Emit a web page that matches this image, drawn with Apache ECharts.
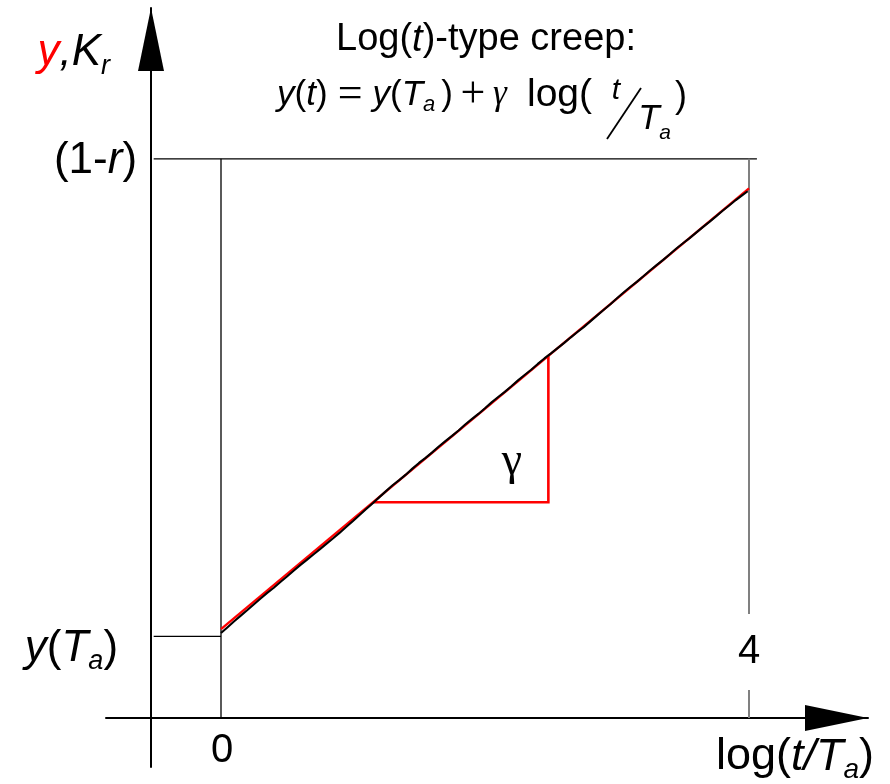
<!DOCTYPE html>
<html>
<head>
<meta charset="utf-8">
<script src="https://cdn.jsdelivr.net/npm/echarts@6/dist/echarts.min.js"></script>
<style>
  html, body { margin: 0; padding: 0; background: #fff; }
  #chart { width: 890px; height: 784px; }
</style>
</head>
<body>
<div id="chart"></div>
<script>
// ---- data -------------------------------------------------------------
// x: log(t/Ta), y: creep response y (or K_r)
const xTicks = [0, 4];
const xTickLabels = ['0', '4'];
const yLevels = [0.146, 1.0];               // y(Ta) and (1-r)
const yLevelLabels = ['{i|y}{n|(}{i|T}{s|a}{n|)}', '{n|(1-}{i|r}{n|)}'];
const yAxisAt = -0.53;                       // where the vertical axis crosses
const topLineEnd = 4.06;

// fitted log(t) line and its slope triangle
const fitLine = [[0, 0.159], [4, 0.947]];
const slopeTriangle = [[1.15, 0.386], [2.48, 0.386], [2.48, 0.648]];

// measured creep curve
const measuredLogT = [
  0.00, 0.05, 0.10, 0.15, 0.20, 0.25, 0.30, 0.35, 0.40, 0.45,
  0.50, 0.55, 0.60, 0.65, 0.70, 0.75, 0.80, 0.85, 0.90, 0.95,
  1.00, 1.05, 1.10, 1.15, 1.20, 1.25, 1.30, 1.35, 1.40, 1.45,
  1.50, 1.55, 1.60, 1.65, 1.70, 1.75, 1.80, 1.85, 1.90, 1.95,
  2.00, 2.05, 2.10, 2.15, 2.20, 2.25, 2.30, 2.35, 2.40, 2.45,
  2.50, 2.55, 2.60, 2.65, 2.70, 2.75, 2.80, 2.85, 2.90, 2.95,
  3.00, 3.05, 3.10, 3.15, 3.20, 3.25, 3.30, 3.35, 3.40, 3.45,
  3.50, 3.55, 3.60, 3.65, 3.70, 3.75, 3.80, 3.85, 3.90, 3.95, 3.99];
const measuredY = [
  0.1520, 0.1625, 0.1730, 0.1832, 0.1932, 0.2035, 0.2138, 0.2238, 0.2330, 0.2432,
  0.2530, 0.2634, 0.2735, 0.2828, 0.2925, 0.3020, 0.3118, 0.3215, 0.3315, 0.3420,
  0.3525, 0.3632, 0.3738, 0.3842, 0.3950, 0.4058, 0.4162, 0.4255, 0.4352, 0.4460,
  0.4562, 0.4652, 0.4750, 0.4855, 0.4952, 0.5045, 0.5142, 0.5248, 0.5345, 0.5438,
  0.5540, 0.5645, 0.5740, 0.5832, 0.5932, 0.6038, 0.6133, 0.6228, 0.6332, 0.6430,
  0.6522, 0.6615, 0.6708, 0.6808, 0.6902, 0.6995, 0.7098, 0.7200, 0.7300, 0.7398,
  0.7505, 0.7608, 0.7708, 0.7800, 0.7900, 0.8002, 0.8098, 0.8192, 0.8292, 0.8395,
  0.8490, 0.8582, 0.8680, 0.8778, 0.8872, 0.8970, 0.9070, 0.9165, 0.9262, 0.9350, 0.9420];

// ---- styling ----------------------------------------------------------
const SANS = "'Liberation Sans', Arial, sans-serif";
const SERIF = "'Liberation Serif', 'Times New Roman', serif";

function richSet(size) {
  const lh = Math.round(size * 1.2);
  return {
    n: { fontFamily: SANS, fontSize: size, color: '#000', lineHeight: lh },
    i: { fontFamily: SANS, fontSize: size, fontStyle: 'italic', color: '#000', lineHeight: lh },
    r: { fontFamily: SANS, fontSize: size, fontStyle: 'italic', color: '#ff0000', lineHeight: lh },
    s: { fontFamily: SANS, fontSize: Math.round(size * 0.62), fontStyle: 'italic', color: '#000',
         lineHeight: Math.round(size * 0.7), verticalAlign: 'bottom' },
    g: { fontFamily: SERIF, fontSize: size, fontStyle: 'italic', color: '#000', lineHeight: lh },
    cp: { fontFamily: SANS, fontSize: size, color: '#000', lineHeight: lh, padding: [0, 0, 0, 6] },
    eq: { fontFamily: SERIF, fontSize: 44, color: '#000', lineHeight: lh, width: 45, align: 'center' },
    pl: { fontFamily: SERIF, fontSize: 44, color: '#000', lineHeight: lh, width: 40, align: 'center' }
  };
}

const chart = echarts.init(document.getElementById('chart'), null, { renderer: 'canvas' });

const axisLineStyle = { color: '#000', width: 2 };
const refLineStyle = { color: '#000', width: 1.3 };

const labelPoints = [
  { value: [xTicks[0], 0], text: '{n|' + xTickLabels[0] + '}', offset: [1, 33], align: 'center', bg: null },
  { value: [xTicks[1], 0], text: '{n|' + xTickLabels[1] + '}', offset: [0, -66], align: 'center', bg: '#fff' },
  { value: [yAxisAt, yLevels[1]], text: yLevelLabels[1], offset: [-14, 2], align: 'right', bg: null },
  { value: [yAxisAt, yLevels[0]], text: yLevelLabels[0], offset: [-33, 12], align: 'right', bg: null }
];

const option = {
  animation: false,
  backgroundColor: '#fff',
  grid: { left: 106, right: 22, top: 8, bottom: 16 },
  xAxis: {
    type: 'value',
    min: -0.8712,
    max: 4.9015,
    axisLine: {
      onZero: true,
      lineStyle: axisLineStyle,
      symbol: ['none', 'triangle'],
      symbolSize: [26, 63],
      symbolOffset: [0, -31.5]
    },
    axisTick: { show: false },
    axisLabel: { show: false },
    splitLine: { show: false },
    name: '{n|log(}{i|t/T}{s|a}{n|)}',
    nameLocation: 'end',
    nameGap: 6,
    nameTextStyle: { color: '#000', align: 'right', verticalAlign: 'top', padding: [12, 0, 0, 0], rich: richSet(45) }
  },
  yAxis: {
    type: 'value',
    min: -0.0875,
    max: 1.2696,
    position: 'left',
    offset: -45,
    axisLine: {
      onZero: false,
      lineStyle: axisLineStyle,
      symbol: ['none', 'triangle'],
      symbolSize: [26, 63],
      symbolOffset: [0, -31.5]
    },
    axisTick: { show: false },
    axisLabel: { show: false },
    splitLine: { show: false },
    name: '{r|y}{i|,K}{s|r}',
    nameLocation: 'end',
    nameGap: -45,
    nameTextStyle: { color: '#000', align: 'right', verticalAlign: 'middle', padding: [0, 41, 0, 0], rich: richSet(44) }
  },
  graphic: [
    {
      type: 'text', x: 486, y: 40,
      style: { text: '{n|Log(}{i|t}{n|)-type creep:}', rich: richSet(38), align: 'center', verticalAlign: 'middle' }
    },
    {
      type: 'text', x: 277, y: 95,
      style: {
        text: '{i|y}{n|(}{i|t}{n|)}{eq|=}{i|y}{n|(}{i|T}{s|a}{cp|)}{pl|+}{g|γ}',
        rich: richSet(35), align: 'left', verticalAlign: 'middle'
      }
    },
    { type: 'text', x: 527, y: 95, style: { text: 'log(', font: '39px ' + SANS, fill: '#000', align: 'left', verticalAlign: 'middle' } },
    { type: 'text', x: 616, y: 91, style: { text: 't', font: 'italic 30px ' + SANS, fill: '#000', align: 'center', verticalAlign: 'middle' } },
    { type: 'line', shape: { x1: 607, y1: 139, x2: 641, y2: 88 }, style: { stroke: '#000', lineWidth: 1.8 } },
    { type: 'text', x: 649, y: 119, style: { text: 'T', font: 'italic 35px ' + SANS, fill: '#000', align: 'center', verticalAlign: 'middle' } },
    { type: 'text', x: 665, y: 133, style: { text: 'a', font: 'italic 21px ' + SANS, fill: '#000', align: 'center', verticalAlign: 'middle' } },
    { type: 'text', x: 681, y: 97, style: { text: ')', font: '36px ' + SANS, fill: '#000', align: 'center', verticalAlign: 'middle' } },
    { type: 'text', x: 512, y: 462, style: { text: 'γ', font: '46px ' + SERIF, fill: '#000', align: 'center', verticalAlign: 'middle' } }
  ],
  series: [
    { // upper level (1-r)
      type: 'line', data: [[yAxisAt + 0.02, yLevels[1]], [topLineEnd, yLevels[1]]],
      symbol: 'none', lineStyle: refLineStyle, z: 1, silent: true
    },
    { // y(Ta) level
      type: 'line', data: [[yAxisAt + 0.02, yLevels[0]], [xTicks[0], yLevels[0]]],
      symbol: 'none', lineStyle: refLineStyle, z: 1, silent: true
    },
    { // log(t/Ta) = 0
      type: 'line', data: [[xTicks[0], 0], [xTicks[0], yLevels[1]]],
      symbol: 'none', lineStyle: refLineStyle, z: 1, silent: true
    },
    { // log(t/Ta) = 4
      type: 'line', data: [[xTicks[1], 0], [xTicks[1], yLevels[1]]],
      symbol: 'none', lineStyle: { color: '#808080', width: 2 }, z: 1, silent: true
    },
    { // fitted log(t) line
      type: 'line', data: fitLine, symbol: 'none',
      lineStyle: { color: '#ff0000', width: 2.4 }, z: 3, silent: true
    },
    { // slope triangle
      type: 'line', data: slopeTriangle, symbol: 'none',
      lineStyle: { color: '#ff0000', width: 2.6, join: 'miter' }, z: 3, silent: true
    },
    { // measured curve
      type: 'line', data: measuredLogT.map((x, k) => [x, measuredY[k]]), symbol: 'none',
      lineStyle: { color: '#000', width: 2.1 }, z: 4, silent: true
    },
    { // tick labels
      type: 'scatter', symbolSize: 0, z: 10, silent: true,
      itemStyle: { opacity: 1 },
      data: labelPoints.map(p => ({
        value: p.value,
        label: {
          show: true, position: 'inside', formatter: p.text, offset: p.offset, align: p.align,
          verticalAlign: 'middle', color: '#000', opacity: 1, textBorderWidth: 0, textShadowBlur: 0,
          rich: richSet(p.align === 'center' ? 40 : 44),
          backgroundColor: p.bg || 'transparent', padding: p.bg ? [14, 4, 14, 4] : 0
        }
      }))
    }
  ]
};

chart.setOption(option);
</script>
</body>
</html>
